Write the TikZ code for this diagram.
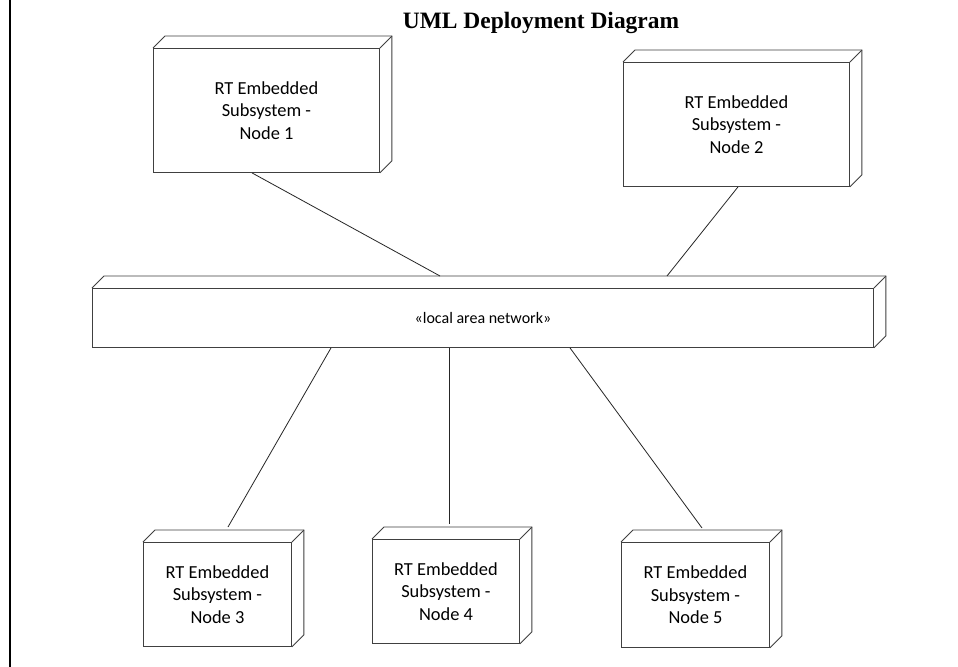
\documentclass[tikz,border=0pt]{standalone}
\usepackage{fontspec}
\setmainfont{Carlito}
\newfontfamily\titlefont{Liberation Serif}
\usetikzlibrary{calc}
\newcommand{\pxu}{0.75pt}
\newcommand{\cubeback}[1]{%
  \draw[boxline] (#1.north west) -- ++(12,-12) -| ($(#1.south east)+(12,-12)$) -- (#1.south east);
  \draw[boxline] (#1.north east) -- ++(12,-12);
}
\begin{document}
\begin{tikzpicture}[x=0.75pt,y=-0.75pt,
  boxline/.style={draw=black!75, line width=0.9*\pxu},
  nodebox/.style={boxline, rectangle, inner sep=0pt, anchor=north west, align=center,
    font=\fontsize{13.8}{16.9}\selectfont},
  lanbox/.style={boxline, rectangle, inner sep=0pt, anchor=north west, align=center,
    font=\fontsize{12}{14}\selectfont},
  link/.style={draw=black!85, line width=0.8*\pxu},
  titletext/.style={font=\titlefont\bfseries\fontsize{17.6}{20}\selectfont, anchor=base}
]
\useasboundingbox[fill=white] (0,0) rectangle (958,667);
\draw[line width=2.6*\pxu] (10,0) -- (10,667);

\node[titletext] (title) at (541,29) {UML Deployment Diagram};

\node[nodebox, minimum width=226*\pxu, minimum height=124*\pxu] (n1) at (153,48)
  {RT Embedded\\Subsystem -\\Node 1};
\node[nodebox, minimum width=226*\pxu, minimum height=124*\pxu] (n2) at (623,62)
  {RT Embedded\\Subsystem -\\Node 2};
\node[lanbox, minimum width=781*\pxu, minimum height=59*\pxu] (lan) at (92,288)
  {\raisebox{-3pt}{«local area network»}};
\node[nodebox, minimum width=148*\pxu, minimum height=104*\pxu] (n3) at (143,542)
  {\raisebox{-4pt}{RT Embedded}\\\raisebox{-4pt}{Subsystem -}\\\raisebox{-4pt}{Node 3}};
\node[nodebox, minimum width=147*\pxu, minimum height=104*\pxu] (n4) at (372,539)
  {\raisebox{-4pt}{RT Embedded}\\\raisebox{-4pt}{Subsystem -}\\\raisebox{-4pt}{Node 4}};
\node[nodebox, minimum width=148*\pxu, minimum height=105*\pxu] (n5) at (621,542)
  {\raisebox{-4pt}{RT Embedded}\\\raisebox{-4pt}{Subsystem -}\\\raisebox{-4pt}{Node 5}};

\cubeback{n1}
\cubeback{n2}
\cubeback{lan}
\cubeback{n3}
\cubeback{n4}
\cubeback{n5}

\draw[link] ($(n1.south west)+(99,0)$) -- ($(lan.north west)+(348,-12)$);
\draw[link] ($(n2.south west)+(115,0)$) -- ($(lan.north west)+(575,-12)$);
\draw[link] ($(lan.south west)+(239,0)$) -- ($(n3.north west)+(85,-15)$);
\draw[link] ($(lan.south west)+(357,0)$) -- ($(n4.north west)+(77,-15)$);
\draw[link] ($(lan.south west)+(478,0)$) -- ($(n5.north west)+(81,-14)$);
\end{tikzpicture}
\end{document}
